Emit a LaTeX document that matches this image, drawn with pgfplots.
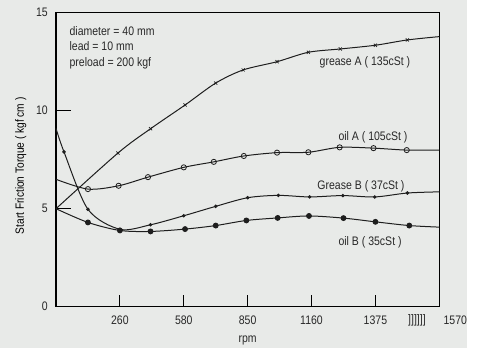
\documentclass[border=0pt]{standalone}
\usepackage{pgfplots}
\pgfplotsset{compat=1.18}
\usepackage{fontspec}
\setmainfont{Liberation Sans}[FakeStretch=0.85]
\definecolor{bgcol}{RGB}{232,234,232}
\definecolor{ink}{RGB}{30,30,30}
\definecolor{txt}{RGB}{40,40,40}

\begin{document}
\begin{tikzpicture}[x=1bp,y=1bp]
\useasboundingbox (0,0) rectangle (477,348);
\fill[bgcol] (0,0) rectangle (467,348);
\begin{axis}[
  at={(56bp,41.3bp)}, anchor=south west,
  scale only axis, width=383.3bp, height=294bp,
  xmin=0, xmax=6, ymin=0, ymax=15,
  clip=false,
  axis line style={line width=1.3bp, black},
  font=\fontsize{12.4}{14}\selectfont\color{txt},
  xtick={1,2,3,4,5}, xticklabels={260,580,850,1160,1375},
  ytick={0,15}, yticklabels={0,15},
  extra y ticks={5,10}, extra y tick labels={5,10},
  extra y tick style={major tick length=15bp},
  xtick pos=bottom, ytick pos=left,
  tick align=inside,
  major tick length=12bp,
  tick style={line width=1bp, black},
  xticklabel style={inner sep=0pt, anchor=north, yshift=-8.8bp},
  yticklabel style={inner sep=0pt, anchor=east, xshift=-8bp},
  every axis plot/.append style={line width=1bp, ink, smooth, tension=0.5},
]
% grease A (135cSt)
\addplot[mark=x, mark size=2.2bp, mark indices={2,3,4,5,6,7,8,9,10,11}, mark options={line width=0.7bp}] coordinates {
 (0,5.0) (0.97,7.84) (1.48,9.08) (2.02,10.29) (2.5,11.41) (2.93,12.08) (3.46,12.5)
 (3.95,12.98) (4.45,13.15) (5.0,13.34) (5.5,13.61) (6.0,13.78)};
% oil A (105cSt)
\addplot[mark=o, mark size=2.6bp, mark indices={2,3,4,5,6,7,8,9,10,11,12}, mark options={line width=0.8bp, fill=none}] coordinates {
 (0,6.5) (0.5,6.0) (0.98,6.17) (1.44,6.61) (2.0,7.11) (2.47,7.39) (2.94,7.69)
 (3.46,7.86) (3.95,7.88) (4.44,8.13) (4.97,8.09) (5.49,7.99) (6.0,7.99)};
% Grease B (37cSt)
\addplot[mark=*, mark size=1.2bp, mark indices={2,3,4,5,6,7,8,9,10,11,12,13}] coordinates {
 (0,9.1) (0.125,7.9) (0.5,4.97) (1.0,3.95) (1.48,4.18) (2.0,4.64) (2.5,5.12)
 (3.0,5.56) (3.48,5.68) (3.97,5.60) (4.49,5.67) (4.99,5.60) (5.5,5.80) (6.0,5.86)};
% oil B (35cSt)
\addplot[mark=*, mark size=2.4bp, mark indices={2,3,4,5,6,7,8,9,10,11,12}] coordinates {
 (0,5.0) (0.5,4.3) (1.0,3.89) (1.48,3.84) (2.02,3.96) (2.5,4.14) (2.98,4.4)
 (3.47,4.53) (3.96,4.63) (4.5,4.52) (5.0,4.33) (5.53,4.14) (6.0,4.06)};

\node[anchor=base west, inner sep=0pt] at (axis cs:0.21,13.86) {diameter = 40 mm};
\node[anchor=base west, inner sep=0pt] at (axis cs:0.21,13.06) {lead = 10 mm};
\node[anchor=base west, inner sep=0pt] at (axis cs:0.21,12.28) {preload = 200 kgf};

\node[anchor=base west, inner sep=0pt] at (axis cs:4.125,12.30) {grease A ( 135cSt )};
\node[anchor=base west, inner sep=0pt] at (axis cs:4.42,8.5) {oil A ( 105cSt )};
\node[anchor=base west, inner sep=0pt] at (axis cs:4.09,5.99) {Grease B ( 37cSt )};
\node[anchor=base west, inner sep=0pt] at (axis cs:4.42,3.11) {oil B ( 35cSt )};

\node[inner sep=0pt] at (axis cs:5.65,-0.68) {]]]]]]};
\node[inner sep=0pt] at (axis cs:6.25,-0.68) {1570};
\node[inner sep=0pt] at ([yshift=-34bp]rel axis cs:0.5,0) {rpm};
\node[inner sep=0pt, rotate=90, font=\fontsize{12}{14}\selectfont] at ([xshift=-35.3bp,yshift=-6bp]rel axis cs:0,0.5) {Start Friction Torque ( kgf cm )};
\end{axis}
\end{tikzpicture}
\end{document}
